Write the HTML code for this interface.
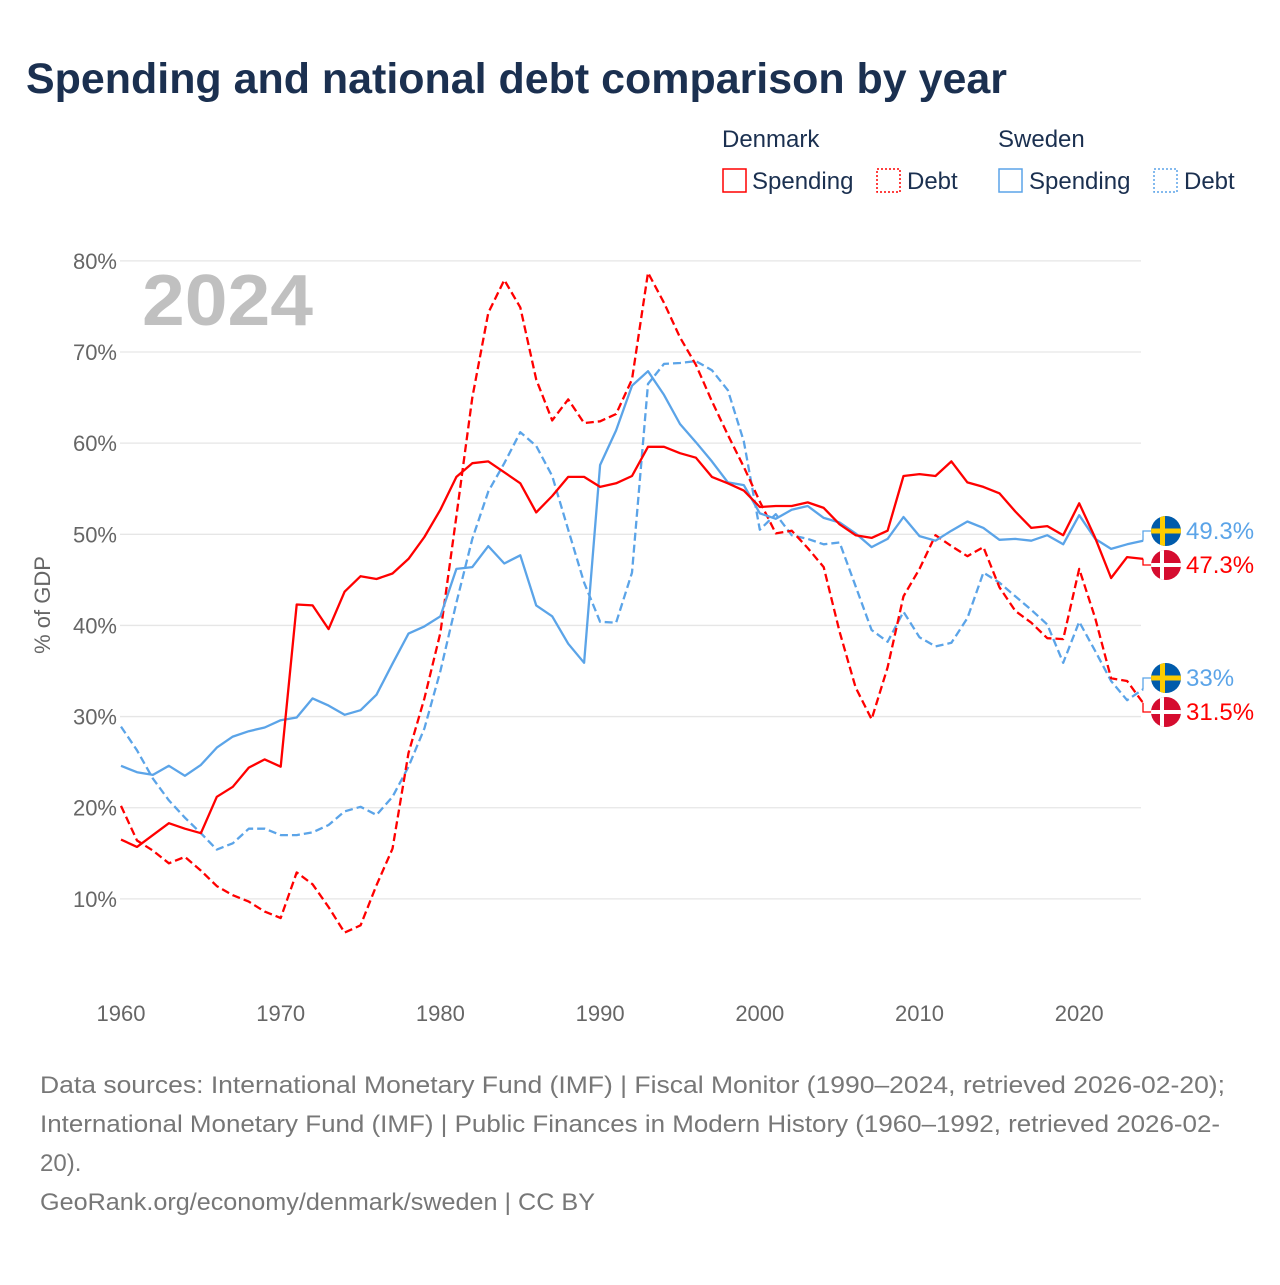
<!DOCTYPE html>
<html><head><meta charset="utf-8">
<style>
body{margin:0;background:#fff;font-family:"Liberation Sans",sans-serif;}
svg text{font-family:"Liberation Sans",sans-serif;}
</style></head>
<body>
<svg id="chart" width="1280" height="1280" viewBox="0 0 1280 1280">
<text x="26" y="93" font-size="43" font-weight="bold" fill="#1b3050" textLength="981" lengthAdjust="spacingAndGlyphs">Spending and national debt comparison by year</text>
<g>
<text x="722" y="147" font-size="24" fill="#1b3050">Denmark</text>
<text x="998" y="147" font-size="24" fill="#1b3050">Sweden</text>
<rect x="723" y="169" width="23" height="23" fill="none" stroke="#ff0000" stroke-width="1.5"/>
<text x="752" y="189" font-size="24" fill="#1b3050">Spending</text>
<rect x="877" y="169" width="23" height="23" fill="none" stroke="#ff0000" stroke-width="1.5" stroke-dasharray="2,2"/>
<text x="907" y="189" font-size="24" fill="#1b3050">Debt</text>
<rect x="999" y="169" width="23" height="23" fill="none" stroke="#5ba4e8" stroke-width="1.5"/>
<text x="1029" y="189" font-size="24" fill="#1b3050">Spending</text>
<rect x="1154" y="169" width="23" height="23" fill="none" stroke="#5ba4e8" stroke-width="1.5" stroke-dasharray="2,2"/>
<text x="1184" y="189" font-size="24" fill="#1b3050">Debt</text>
</g>
<g id="grid"></g>
<text x="142" y="325" font-size="72" font-weight="bold" fill="#c0c0c0" textLength="171" lengthAdjust="spacingAndGlyphs">2024</text>
<text transform="translate(50,605) rotate(-90)" text-anchor="middle" font-size="22" fill="#666">% of GDP</text>
<g id="series"></g>
<g id="endlabels"></g>
<g font-size="24" fill="#777">
<text x="40" y="1093" textLength="1185" lengthAdjust="spacingAndGlyphs">Data sources: International Monetary Fund (IMF) | Fiscal Monitor (1990–2024, retrieved 2026-02-20);</text>
<text x="40" y="1132" textLength="1180" lengthAdjust="spacingAndGlyphs">International Monetary Fund (IMF) | Public Finances in Modern History (1960–1992, retrieved 2026-02-</text>
<text x="40" y="1171">20).</text>
<text x="40" y="1210" textLength="555" lengthAdjust="spacingAndGlyphs">GeoRank.org/economy/denmark/sweden | CC BY</text>
</g>
</svg>
<script>
const startYear = 1960;
const xTicks = [1960,1970,1980,1990,2000,2010,2020];
const yTicks = [10,20,30,40,50,60,70,80];
const dkSpending = [16.5,15.7,17,18.3,17.7,17.2,21.2,22.3,24.4,25.3,24.5,42.3,42.2,39.6,43.7,45.4,45.1,45.7,47.3,49.7,52.7,56.3,57.8,58.0,56.8,55.6,52.4,54.2,56.3,56.3,55.2,55.6,56.4,59.6,59.6,58.9,58.4,56.3,55.6,54.8,53.0,53.1,53.1,53.5,52.9,51.1,49.9,49.6,50.4,56.4,56.6,56.4,58.0,55.7,55.2,54.5,52.5,50.7,50.9,49.9,53.4,49.6,45.2,47.5,47.3];
const dkDebt = [20.2,16.4,15.3,13.9,14.6,13.1,11.4,10.4,9.7,8.6,7.9,12.9,11.6,9.1,6.3,7.1,11.5,15.5,26,32,39.2,52,65,74.3,77.9,74.9,67,62.5,64.8,62.2,62.4,63.2,67,78.7,75.4,71.6,68.6,64.6,60.9,57.4,53.6,50.1,50.4,48.5,46.4,39.3,33.2,29.7,35.4,43.2,46.2,49.9,48.7,47.6,48.6,44.2,41.6,40.3,38.6,38.5,46.2,40.8,34.2,33.9,31.5];
const seSpending = [24.6,23.9,23.6,24.6,23.5,24.7,26.6,27.8,28.4,28.8,29.6,29.9,32.0,31.2,30.2,30.7,32.4,35.8,39.1,39.9,41,46.2,46.4,48.7,46.8,47.7,42.2,41,38,35.9,57.6,61.4,66.3,67.9,65.3,62.1,60.1,58.0,55.7,55.4,52.3,51.7,52.7,53.1,51.8,51.3,50.1,48.6,49.5,51.9,49.8,49.3,50.4,51.4,50.7,49.4,49.5,49.3,49.9,48.9,52.1,49.5,48.4,48.9,49.3];
const seDebt = [28.9,26.3,23.2,20.8,18.9,17.2,15.4,16.1,17.7,17.7,17.0,17.0,17.3,18.1,19.6,20.1,19.2,21.2,24.5,28.7,35,42.5,49.5,54.7,57.8,61.2,59.7,56.4,50.5,44.7,40.4,40.3,45.8,66.5,68.7,68.8,69.0,68.0,65.8,60.2,50.5,52.2,49.9,49.5,48.9,49.1,44.3,39.5,38.2,41.5,38.7,37.7,38.1,40.8,45.8,44.7,43.2,41.7,40.1,35.9,40.4,37.2,33.9,31.8,33.0];

const NS='http://www.w3.org/2000/svg';
const x = yr => 121 + (yr-1960)*15.97;
const y = v => 990 - v*9.114;
function mk(tag, attrs, parent){const e=document.createElementNS(NS,tag);for(const k in attrs)e.setAttribute(k,attrs[k]);parent.appendChild(e);return e;}
const grid=document.getElementById('grid');
yTicks.forEach(t=>{
  const l=mk('line',{x1:120,x2:1141,y1:y(t),y2:y(t),stroke:'#e6e6e6','stroke-width':1.3},grid);
  
  
  const tx=mk('text',{x:117,y:y(t)+8,'text-anchor':'end','font-size':22,fill:'#666'},grid);
  tx.textContent=t+'%';
  
  
});
xTicks.forEach(t=>{
  const tx=mk('text',{x:x(t),y:1021,'text-anchor':'middle','font-size':22,fill:'#666'},grid);
  tx.textContent=t;
  
  
});
const ser=document.getElementById('series');
function line(data,color,dash,name){
  const d=data.map((v,i)=>(i?'L':'M')+x(startYear+i).toFixed(1)+','+y(v).toFixed(1)).join('');
  const p=mk('path',{d:d,fill:'none',stroke:color,'stroke-width':2.3,'stroke-linejoin':'round'},ser);
  if(dash)p.setAttribute('stroke-dasharray','8,4');
  
  
}
line(seDebt,'#5ba4e8',true,'line-sweden-debt');
line(dkDebt,'#ff0000',true,'line-denmark-debt');
line(seSpending,'#5ba4e8',false,'line-sweden-spending');
line(dkSpending,'#ff0000',false,'line-denmark-spending');

const el=document.getElementById('endlabels');
function flag(cx,cy,country){
  const g=mk('g',{},el);
  
  
  const id='c'+country+Math.round(cy);
  const cp=mk('clipPath',{id:id},g);mk('circle',{cx:cx,cy:cy,r:15},cp);
  const inner=mk('g',{'clip-path':'url(#'+id+')'},g);
  if(country==='sweden'){
    mk('rect',{x:cx-15,y:cy-15,width:30,height:30,fill:'#005bab'},inner);
    mk('rect',{x:cx-6,y:cy-15,width:5,height:30,fill:'#fecc00'},inner);
    mk('rect',{x:cx-15,y:cy-2.5,width:30,height:5,fill:'#fecc00'},inner);
  }else{
    mk('rect',{x:cx-15,y:cy-15,width:30,height:30,fill:'#d50c2f'},inner);
    mk('rect',{x:cx-6,y:cy-15,width:4,height:30,fill:'#fff'},inner);
    mk('rect',{x:cx-15,y:cy-2,width:30,height:4,fill:'#fff'},inner);
  }
}
const last=dkSpending.length-1;
const ends=[
 {v:seSpending[last],ly:531,c:'#5ba4e8',country:'sweden',name:'end-label-se-spending'},
 {v:dkSpending[last],ly:565,c:'#ff0000',country:'denmark',name:'end-label-dk-spending'},
 {v:seDebt[last],ly:678,c:'#5ba4e8',country:'sweden',name:'end-label-se-debt'},
 {v:dkDebt[last],ly:712,c:'#ff0000',country:'denmark',name:'end-label-dk-debt'}
];
ends.forEach(e=>{
  const x0=x(startYear+last), y0=y(e.v);
  const p=mk('path',{d:`M${x0},${y0}L1143,${y0}L1143,${e.ly}L1152,${e.ly}`,fill:'none',stroke:e.c,'stroke-width':1.3},el);
  
  
  flag(1166,e.ly,e.country);
  const t=mk('text',{x:1186,y:e.ly+8,'font-size':24,fill:e.c},el);
  t.textContent=(Math.round(e.v*10)/10)+'%';
  
  
});
</script>
</body></html>
